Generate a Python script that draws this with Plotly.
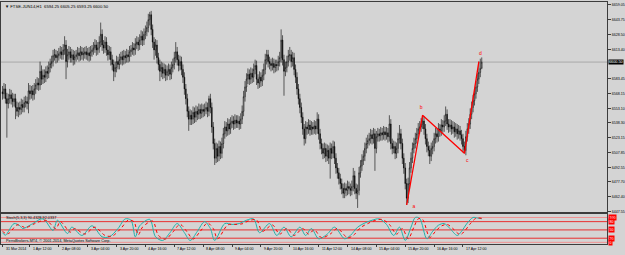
import plotly.graph_objects as go

# ---------------- data ----------------
symbol_title = "FTSE-JUN14,H1  6594.25 6605.25 6593.25 6600.50"

opens = [6570,6568,6573,6563,6558,6563,6567,6563,6560,6563,
6554,6550,6554,6552,6557,6554,6559,6560,6558,6571,
6568,6571,6567,6573,6577,6579,6577,6591,6583,6587,
6585,6591,6589,6595,6599,6601,6607,6608,6605,6607,
6609,6611,6608,6613,6618,6601,6608,6611,6605,6608,
6603,6606,6608,6610,6607,6611,6608,6609,6611,6608,
6610,6607,6611,6613,6615,6618,6613,6615,6621,6629,
6618,6615,6621,6613,6608,6611,6603,6598,6591,6595,
6601,6598,6603,6606,6603,6607,6605,6608,6606,6611,
6613,6615,6613,6619,6621,6618,6623,6627,6623,6629,
6632,6636,6644,6649,6634,6621,6613,6618,6605,6598,
6591,6595,6589,6593,6587,6591,6593,6588,6595,6598,
6605,6611,6603,6597,6601,6593,6585,6573,6563,6550,
6542,6546,6542,6549,6544,6550,6547,6552,6548,6552,
6550,6552,6554,6550,6563,6554,6534,6517,6502,6512,
6504,6514,6507,6517,6527,6534,6530,6537,6532,6538,
6540,6537,6541,6538,6540,6537,6542,6550,6565,6575,
6583,6588,6583,6589,6585,6593,6597,6583,6579,6585,
6581,6587,6593,6603,6608,6601,6599,6597,6599,6595,
6598,6597,6601,6605,6623,6603,6591,6595,6601,6607,
6608,6601,6605,6593,6585,6573,6563,6554,6544,6532,
6522,6534,6532,6536,6531,6534,6532,6535,6532,6542,
6527,6517,6512,6507,6512,6504,6510,6502,6512,6507,
6514,6502,6492,6487,6481,6476,6471,6466,6471,6469,
6473,6471,6469,6473,6484,6471,6466,6469,6487,6494,
6500,6504,6512,6517,6520,6522,6526,6522,6527,6512,
6524,6527,6525,6528,6526,6529,6526,6528,6524,6537,
6517,6512,6514,6507,6512,6522,6527,6517,6502,6492,
6476,6461,6476,6492,6502,6512,6517,6522,6527,6532,
6534,6537,6540,6532,6522,6514,6510,6504,6512,6514,
6522,6527,6524,6532,6530,6536,6534,6540,6547,6537,
6534,6536,6532,6534,6529,6532,6527,6530,6526,6522,
6514,6510,6524,6532,6537,6547,6554,6561,6568,6575,
6583,6590,6594.25]

highs = [6576,6579,6578,6569,6568,6573,6572,6569,6568,6568,
6560,6559,6560,6563,6562,6565,6566,6565,6579,6577,
6576,6577,6579,6583,6585,6584,6601,6597,6593,6593,
6596,6597,6601,6604,6607,6613,6614,6613,6612,6615,
6617,6616,6619,6627,6623,6614,6617,6616,6614,6613,
6612,6613,6616,6615,6617,6616,6615,6616,6617,6615,
6616,6617,6618,6621,6624,6623,6621,6627,6641,6634,
6623,6627,6626,6618,6617,6616,6608,6603,6601,6607,
6606,6609,6611,6612,6613,6612,6614,6613,6617,6618,
6621,6620,6625,6627,6626,6629,6633,6632,6635,6638,
6642,6650,6652,6653,6639,6626,6624,6623,6610,6603,
6601,6600,6599,6598,6597,6599,6598,6601,6604,6611,
6621,6616,6608,6607,6606,6598,6590,6578,6568,6555,
6552,6551,6555,6554,6556,6555,6558,6557,6558,6557,
6558,6560,6559,6566,6568,6559,6539,6522,6518,6517,
6520,6519,6523,6533,6540,6539,6543,6542,6544,6546,
6545,6547,6546,6546,6545,6548,6556,6571,6581,6589,
6594,6593,6595,6594,6599,6603,6602,6588,6591,6590,
6593,6599,6609,6613,6613,6606,6604,6605,6604,6603,
6603,6607,6611,6634,6628,6608,6601,6607,6613,6616,
6613,6611,6610,6598,6590,6578,6568,6559,6549,6537,
6540,6539,6542,6541,6540,6539,6541,6540,6549,6547,
6532,6522,6517,6518,6517,6516,6515,6518,6517,6520,
6519,6507,6497,6492,6486,6481,6476,6477,6476,6479,
6478,6476,6479,6492,6489,6476,6475,6493,6500,6506,
6510,6518,6523,6526,6528,6532,6531,6533,6532,6530,
6533,6532,6534,6533,6535,6534,6534,6533,6546,6542,
6522,6520,6519,6518,6528,6536,6532,6522,6507,6497,
6481,6482,6498,6508,6518,6523,6528,6533,6538,6540,
6543,6546,6545,6537,6527,6519,6515,6518,6520,6528,
6533,6532,6538,6537,6542,6541,6546,6555,6552,6542,
6542,6541,6540,6539,6538,6537,6536,6535,6531,6527,
6519,6530,6538,6543,6553,6560,6567,6574,6581,6589,
6601,6604,6605.25]

lows = [6562,6563,6558,6523,6553,6558,6557,6554,6555,6542,
6545,6544,6546,6547,6549,6549,6554,6552,6548,6562,
6563,6561,6562,6568,6572,6571,6572,6577,6578,6579,
6580,6583,6584,6590,6594,6596,6602,6599,6600,6602,
6604,6603,6603,6608,6583,6595,6603,6600,6600,6597,
6598,6601,6603,6601,6602,6603,6602,6604,6603,6602,
6601,6602,6606,6608,6610,6607,6608,6610,6616,6612,
6609,6610,6607,6602,6603,6597,6592,6581,6585,6590,
6593,6593,6598,6597,6598,6599,6600,6600,6601,6606,
6608,6607,6608,6614,6612,6613,6618,6617,6618,6624,
6627,6631,6638,6628,6615,6603,6607,6599,6592,6581,
6585,6583,6584,6581,6582,6586,6582,6583,6590,6593,
6600,6597,6591,6592,6587,6579,6567,6557,6544,6530,
6536,6536,6537,6538,6539,6541,6542,6542,6543,6544,
6545,6547,6544,6545,6548,6528,6511,6495,6497,6498,
6499,6501,6502,6512,6522,6524,6525,6526,6527,6533,
6531,6532,6533,6533,6531,6532,6537,6545,6560,6570,
6578,6577,6578,6579,6580,6588,6577,6573,6574,6575,
6576,6582,6588,6598,6595,6593,6591,6592,6589,6590,
6591,6592,6596,6600,6597,6566,6586,6590,6596,6602,
6595,6596,6587,6579,6567,6557,6548,6538,6526,6515,
6517,6526,6527,6525,6526,6526,6527,6526,6527,6521,
6511,6506,6501,6502,6498,6499,6496,6481,6501,6502,
6496,6486,6481,6475,6470,6465,6461,6461,6463,6464,
6465,6463,6464,6468,6465,6460,6451,6464,6482,6489,
6495,6499,6507,6512,6515,6517,6516,6517,6489,6507,
6519,6519,6520,6520,6521,6520,6521,6518,6519,6511,
6506,6507,6501,6502,6507,6517,6511,6496,6486,6470,
6454,6456,6471,6487,6497,6507,6512,6517,6522,6527,
6529,6532,6526,6516,6508,6504,6496,6499,6506,6509,
6517,6518,6519,6524,6525,6528,6529,6535,6531,6528,
6529,6526,6527,6523,6524,6521,6522,6520,6516,6508,
6507,6505,6519,6527,6532,6542,6549,6556,6563,6570,
6578,6585,6593.25]

closes = [6568,6573,6563,6558,6563,6567,6563,6560,6563,6554,
6550,6554,6552,6557,6554,6559,6560,6558,6571,6568,
6571,6567,6573,6577,6579,6577,6591,6583,6587,6585,
6591,6589,6595,6599,6601,6607,6608,6605,6607,6609,
6611,6608,6613,6618,6601,6608,6611,6605,6608,6603,
6606,6608,6610,6607,6611,6608,6609,6611,6608,6610,
6607,6611,6613,6615,6618,6613,6615,6621,6629,6618,
6615,6621,6613,6608,6611,6603,6598,6591,6595,6601,
6598,6603,6606,6603,6607,6605,6608,6606,6611,6613,
6615,6613,6619,6621,6618,6623,6627,6623,6629,6632,
6636,6644,6649,6634,6621,6613,6618,6605,6598,6591,
6595,6589,6593,6587,6591,6593,6588,6595,6598,6605,
6611,6603,6597,6601,6593,6585,6573,6563,6550,6542,
6546,6542,6549,6544,6550,6547,6552,6548,6552,6550,
6552,6554,6550,6563,6554,6534,6517,6502,6512,6504,
6514,6507,6517,6527,6534,6530,6537,6532,6538,6540,
6537,6541,6538,6540,6537,6542,6550,6565,6575,6583,
6588,6583,6589,6585,6593,6597,6583,6579,6585,6581,
6587,6593,6603,6608,6601,6599,6597,6599,6595,6598,
6597,6601,6605,6623,6603,6591,6595,6601,6607,6608,
6601,6605,6593,6585,6573,6563,6554,6544,6532,6522,
6534,6532,6536,6531,6534,6532,6535,6532,6542,6527,
6517,6512,6507,6512,6504,6510,6502,6512,6507,6514,
6502,6492,6487,6481,6476,6471,6466,6471,6469,6473,
6471,6469,6473,6484,6471,6466,6469,6487,6494,6500,
6504,6512,6517,6520,6522,6526,6522,6527,6512,6524,
6527,6525,6528,6526,6529,6526,6528,6524,6537,6517,
6512,6514,6507,6512,6522,6527,6517,6502,6492,6476,
6461,6476,6492,6502,6512,6517,6522,6527,6532,6534,
6537,6540,6532,6522,6514,6510,6504,6512,6514,6522,
6527,6524,6532,6530,6536,6534,6540,6547,6537,6534,
6536,6532,6534,6529,6532,6527,6530,6526,6522,6514,
6510,6524,6532,6537,6547,6554,6561,6568,6575,6583,
6590,6594,6600.5]

bars = list(range(len(closes)))
last_price = 6600.50

# zigzag pivots (bar index, price, label)
zz_bars = [280, 291, 320, 330]
zz_prices = [6454, 6546, 6507, 6601]
zz_labels = ["a", "b", "c", "d"]
zz_label_bars = [285, 290, 322, 331]
zz_label_prices = [6452, 6554, 6499, 6609]

# stochastic (5,3,3)
stoch_main_bars = [0,2,8,12,14,20,28,35,38,45,48,55,62,69,74,80,85,89,92,95,102,106,111,116,121,126,130,135,140,144,147,154,159,164,169,174,178,185,190,195,200,206,210,214,219,225,230,237,241,246,251,256,261,266,271,275,279,283,286,289,294,298,302,306,310,315,318,322,326,329,332]
stoch_main = [40,31,73,65,55,70,90,48,85,37,60,30,65,25,25,55,90,85,25,65,88,25,12,40,73,40,12,45,80,55,12,73,70,73,85,90,40,73,30,60,25,60,30,55,18,35,60,18,30,60,75,85,90,70,30,60,12,60,95,92,18,45,67,73,55,30,45,75,95,93,90.43]
stoch_sig_bars = [0,3,5,10,14,16,22,30,37,40,47,50,57,64,71,76,82,87,91,94,97,104,108,113,118,123,128,132,137,142,146,149,156,161,166,171,176,180,187,192,197,202,208,212,216,221,227,232,239,243,248,253,258,263,268,273,277,281,285,288,291,296,300,304,308,312,317,320,324,328,332]
stoch_sig = [45,35,40,68,62,58,72,85,55,80,42,55,35,60,30,28,55,85,80,32,60,82,30,17,42,70,42,17,45,75,55,18,68,70,72,84,86,45,68,35,55,30,55,35,50,22,35,55,22,30,58,73,84,88,70,35,55,18,60,90,88,23,45,64,70,55,33,45,72,92,92.03]
stoch_levels = [95, 80, 50, 20, 5]
stoch_level_text = ["100", "80", "50", "20", "0"]
stoch_title = "Stoch(5,3,3) 90.4328 92.0337"
copyright_text = "PerroBrokers-MT4, © 2001-2014, MetaQuotes Software Corp."

# price axis labels
price_ticks = [6659.05, 6643.75, 6628.50, 6613.40, 6583.45, 6568.15, 6553.10,
               6538.30, 6523.15, 6507.85, 6492.55, 6477.70, 6462.40, 6447.55]

# time axis labels
time_bars = [0, 19, 39, 59, 79, 99, 119, 139, 159, 179, 199, 219, 239, 259, 279, 299, 319]
time_labels = ["31 Mar 2014", "1 Apr 12:00", "2 Apr 08:00", "3 Apr 04:00", "3 Apr 20:00",
               "4 Apr 16:00", "7 Apr 12:00", "8 Apr 08:00", "9 Apr 04:00", "9 Apr 20:00",
               "10 Apr 16:00", "11 Apr 12:00", "14 Apr 08:00", "15 Apr 04:00",
               "15 Apr 20:00", "16 Apr 16:00", "17 Apr 12:00"]

# ---------------- layout constants ----------------
W, H = 625, 255
BG = "#D4D4D4"
FRAME = "#3C3C3C"
FONT = "Liberation Sans"
XR = 607 / W
def py(px):  # pixel row -> paper y
    return 1 - px / H

main_dom = [py(213.5), py(2)]
stoch_dom = [py(246), py(216)]

fig = go.Figure()

fig.add_trace(go.Candlestick(
    x=bars, open=opens, high=highs, low=lows, close=closes,
    increasing=dict(line=dict(color="#000000", width=0.6), fillcolor="#FFFFFF"),
    decreasing=dict(line=dict(color="#000000", width=0.6), fillcolor="#000000"),
    whiskerwidth=0, xaxis="x", yaxis="y", showlegend=False, hoverinfo="skip"))

fig.add_trace(go.Scatter(
    x=zz_bars, y=zz_prices, mode="lines", line=dict(color="#FF0000", width=1.3),
    xaxis="x", yaxis="y", showlegend=False, hoverinfo="skip"))

fig.add_trace(go.Scatter(
    x=zz_label_bars, y=zz_label_prices, mode="text", text=zz_labels,
    textfont=dict(color="#FF0000", size=5, family=FONT),
    xaxis="x", yaxis="y", showlegend=False, hoverinfo="skip"))

fig.add_trace(go.Scatter(
    x=stoch_main_bars, y=stoch_main, mode="lines",
    line=dict(color="#20B2AA", width=1, shape="spline", smoothing=0.9),
    xaxis="x2", yaxis="y2", showlegend=False, hoverinfo="skip"))
fig.add_trace(go.Scatter(
    x=stoch_sig_bars, y=stoch_sig, mode="lines",
    line=dict(color="#FF0000", width=1, dash="dot", shape="spline", smoothing=0.9),
    xaxis="x2", yaxis="y2", showlegend=False, hoverinfo="skip"))

shapes = []
# bid line
shapes.append(dict(type="line", xref="paper", yref="y", x0=0, x1=XR, y0=last_price, y1=last_price,
                   line=dict(color="#A8A8A8", width=1), layer="below"))
# stochastic level lines
for lv in stoch_levels:
    light = lv in (95, 5)
    shapes.append(dict(type="line", xref="paper", yref="y2", x0=0, x1=XR, y0=lv, y1=lv,
                       line=dict(color="#F09090" if light else "#E83030", width=1), layer="below"))
# panel separator
shapes.append(dict(type="line", xref="paper", yref="paper", x0=0, x1=XR, y0=py(214.6), y1=py(214.6),
                   line=dict(color=FRAME, width=2)))

annotations = []
annotations.append(dict(xref="paper", yref="paper", x=2 / W, y=py(6.5), text="▼ " + symbol_title,
                        showarrow=False, xanchor="left", yanchor="middle",
                        font=dict(size=4.2, family=FONT, color="#000000")))
annotations.append(dict(xref="paper", yref="y", x=XR + 1 / W, y=last_price, text="6600.50",
                        showarrow=False, xanchor="left", yanchor="middle", bgcolor="#000000",
                        borderpad=0, font=dict(size=3.8, family=FONT, color="#FFFFFF")))
annotations.append(dict(xref="paper", yref="paper", x=3 / W, y=py(219.5), text=stoch_title,
                        showarrow=False, xanchor="left", yanchor="middle",
                        font=dict(size=3.8, family=FONT, color="#000000")))
annotations.append(dict(xref="paper", yref="paper", x=3 / W, y=py(243), text=copyright_text,
                        showarrow=False, xanchor="left", yanchor="middle",
                        font=dict(size=3.8, family=FONT, color="#000000")))
for lv, t in zip(stoch_levels, stoch_level_text):
    annotations.append(dict(xref="paper", yref="y2", x=XR + 1 / W, y=lv, text=t,
                            showarrow=False, xanchor="left", yanchor="middle", bgcolor="#FF0000",
                            borderpad=0.5, font=dict(size=3.5, family=FONT, color="#FFFFFF")))
for b, t in zip(time_bars, time_labels):
    annotations.append(dict(xref="x2", yref="paper", x=b, y=py(250.5), text=t,
                            showarrow=False, xanchor="left", yanchor="middle", xshift=1,
                            font=dict(size=3.6, family=FONT, color="#000000")))

xr = [-1.06, 418.8]
fig.update_layout(
    width=W, height=H, margin=dict(l=0, r=0, t=0, b=0, pad=0),
    paper_bgcolor=BG, plot_bgcolor=BG, showlegend=False,
    font=dict(family=FONT, size=4, color="#000000"),
    xaxis=dict(domain=[0, XR], range=xr, anchor="y", showgrid=False, zeroline=False,
               showticklabels=False, showline=True, linecolor=FRAME, linewidth=1, mirror=True,
               ticks="", rangeslider=dict(visible=False), fixedrange=True),
    yaxis=dict(domain=main_dom, range=[6447, 6662.1], side="right", anchor="x",
               showgrid=False, zeroline=False, showline=True, linecolor=FRAME, linewidth=1,
               mirror=True, ticks="outside", ticklen=3, tickcolor=FRAME, tickwidth=1,
               tickvals=price_ticks, ticktext=["%.2f" % v for v in price_ticks],
               tickfont=dict(size=3.6, family=FONT, color="#000000"), fixedrange=True),
    xaxis2=dict(domain=[0, XR], range=xr, anchor="y2", matches="x", showgrid=False,
                zeroline=False, showticklabels=False, showline=True, linecolor=FRAME,
                linewidth=1, mirror=True, ticks="outside", ticklen=2, tickcolor=FRAME,
                tickvals=time_bars, fixedrange=True),
    yaxis2=dict(domain=stoch_dom, range=[-1.2, 106.5], side="right", anchor="x2",
                showgrid=False, zeroline=False, showticklabels=False, showline=True,
                linecolor=FRAME, linewidth=1, mirror=True, ticks="", fixedrange=True),
    shapes=shapes, annotations=annotations,
)

fig.write_html("out.html")
